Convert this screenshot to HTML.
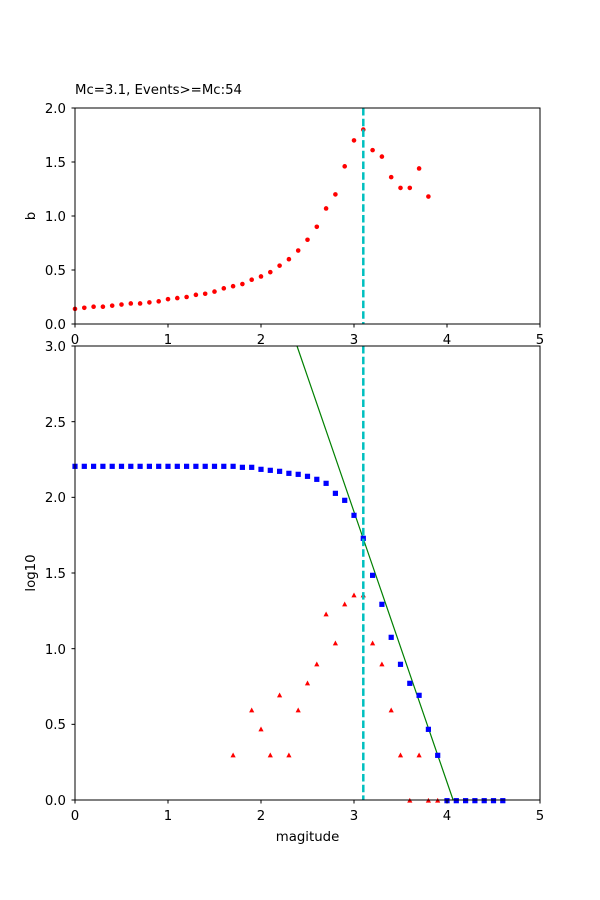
<!DOCTYPE html>
<html><head><meta charset="utf-8"><style>
html,body{margin:0;padding:0;background:#fff;}
svg{display:block;font-family:"DejaVu Sans","Liberation Sans",sans-serif;}
</style></head><body>
<svg id="s" width="600" height="900" xmlns="http://www.w3.org/2000/svg">
<rect width="600" height="900" fill="#fff"/>
<g id="gtop"></g>
<g id="gbot"></g>
<rect x="75" y="108" width="465" height="216" fill="none" stroke="#000" stroke-width="1"/>
<rect x="75" y="346" width="465" height="454" fill="none" stroke="#000" stroke-width="1"/>
<g font-size="13.3" fill="#000">
<text x="75" y="94">Mc=3.1, Events&gt;=Mc:54</text>
<g text-anchor="end">
<text x="66" y="329">0.0</text>
<text x="66" y="275">0.5</text>
<text x="66" y="221">1.0</text>
<text x="66" y="167">1.5</text>
<text x="66" y="113">2.0</text>
</g>
<g text-anchor="middle">
<text x="75" y="344">0</text><text x="168" y="344">1</text><text x="261" y="344">2</text>
<text x="354" y="344">3</text><text x="447" y="344">4</text><text x="540" y="344">5</text>
</g>
<text transform="translate(35,216) rotate(-90)" text-anchor="middle">b</text>
<g text-anchor="end">
<text x="66" y="805">0.0</text>
<text x="66" y="729">0.5</text>
<text x="66" y="654">1.0</text>
<text x="66" y="578">1.5</text>
<text x="66" y="502">2.0</text>
<text x="66" y="427">2.5</text>
<text x="66" y="351">3.0</text>
</g>
<g text-anchor="middle">
<text x="75" y="820">0</text><text x="168" y="820">1</text><text x="261" y="820">2</text>
<text x="354" y="820">3</text><text x="447" y="820">4</text><text x="540" y="820">5</text>
</g>
<text x="307.5" y="841" text-anchor="middle">magitude</text>
<text transform="translate(35,573) rotate(-90)" text-anchor="middle">log10</text>
</g>
<g id="gticks" stroke="#000" stroke-width="1"></g>
</svg>
<script>
(function(){
var NS="http://www.w3.org/2000/svg";
function el(p,t,a){var e=document.createElementNS(NS,t);for(var k in a)e.setAttribute(k,a[k]);p.appendChild(e);return e;}
var gt=document.getElementById('gtop'),gb=document.getElementById('gbot'),tk=document.getElementById('gticks');
var b=[0.14,0.15,0.16,0.16,0.17,0.18,0.19,0.19,0.20,0.21,0.23,0.24,0.25,0.27,0.28,0.30,0.33,0.35,0.37,0.41,0.44,0.48,0.54,0.60,0.68,0.78,0.90,1.07,1.20,1.46,1.70,1.80,1.61,1.55,1.36,1.26,1.26,1.44,1.18];
b.forEach(function(v,i){el(gt,'circle',{cx:75+9.3*i,cy:324-108*v,r:2.3,fill:'#f00'});});
el(gt,'line',{x1:363.3,y1:108,x2:363.3,y2:324,stroke:'#00bfbf','stroke-width':2.5,'stroke-dasharray':'7.5 3.2'});
el(gb,'line',{x1:297,y1:346,x2:453.3,y2:800.5,stroke:'green','stroke-width':1.2});
var tri=[[1.7,946],[1.9,811],[2.0,868],[2.1,946],[2.2,766],[2.3,946],[2.4,811],[2.5,730],[2.6,673],[2.7,523],[2.8,610],[2.9,493],[3.0,466],[3.1,466],[3.2,610],[3.3,673],[3.4,811],[3.5,946],[3.6,1082],[3.7,946],[3.8,1082],[3.9,1082]];
tri.forEach(function(p){var x=75+93*p[0],y=440+p[1]/3;el(gb,'polygon',{points:(x-2.6)+','+(y+2)+' '+(x+2.6)+','+(y+2)+' '+x+','+(y-2.8),fill:'#f00'});});
var sq=[];for(var i=0;i<=17;i++)sq.push(79);
sq=sq.concat([82,82,88,91,94,100,103,109,118,130,160,181,226,295,406,493,592,673,730,766,868,946,1082,1082,1082,1082,1082,1082,1082]);
sq.forEach(function(zy,i){var x=75+9.3*i,y=440+zy/3;el(gb,'rect',{x:x-2.6,y:y-2.6,width:5.2,height:5.2,fill:'#00f'});});
el(gb,'line',{x1:363.3,y1:346,x2:363.3,y2:800,stroke:'#00bfbf','stroke-width':2.5,'stroke-dasharray':'7.5 3.2'});
[0,1,2,3,4,5].forEach(function(i){var x=75+93*i;el(tk,'line',{x1:x,y1:324,x2:x,y2:327.5});el(tk,'line',{x1:x,y1:800,x2:x,y2:803.5});});
[0,0.5,1,1.5,2].forEach(function(v){var y=324-108*v;el(tk,'line',{x1:71.5,y1:y,x2:75,y2:y});});
[0,0.5,1,1.5,2,2.5,3].forEach(function(v){var y=800-151.33*v;el(tk,'line',{x1:71.5,y1:y,x2:75,y2:y});});
})();
</script>
</body></html>
